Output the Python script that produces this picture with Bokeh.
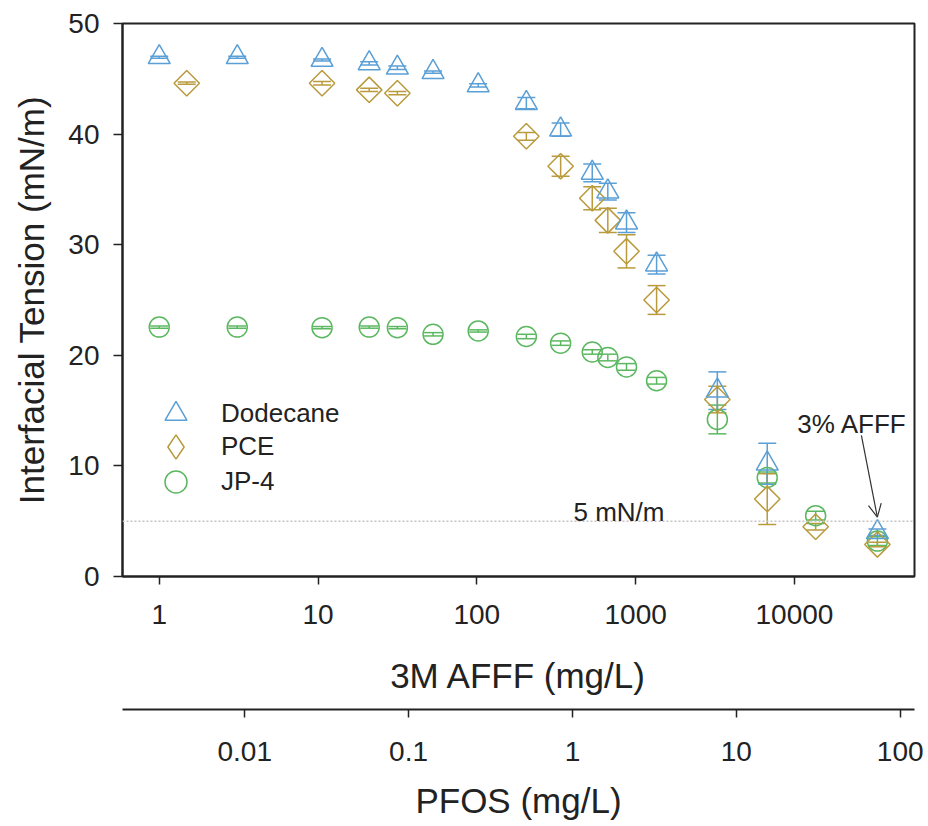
import numpy as np
from bokeh.plotting import figure
from bokeh.models import (ColumnDataSource, Range1d, LogAxis, FixedTicker,
                          CustomJSTickFormatter, Whisker, TeeHead, Span, Label,
                          Arrow, OpenHead, Legend, LegendItem)
from bokeh.embed import file_html
from bokeh.resources import INLINE

# ---------------- data ----------------
dodecane_afff = [1, 3.1, 10.6, 21, 31.6, 53, 102, 205, 337, 533, 668, 876, 1355, 3270, 6740, 33300]
dodecane_ift = [46.95, 46.95, 46.7, 46.4, 46.0, 45.6, 44.4, 42.8, 40.4, 36.5, 34.8, 32.0, 28.2, 16.8, 10.2, 4.0]
dodecane_err = [0.1, 0.1, 0.1, 0.15, 0.15, 0.1, 0.15, 0.5, 0.6, 0.8, 0.75, 0.9, 0.85, 1.7, 1.85, 0.3]

pce_afff = [1.49, 10.6, 21, 31.6, 205, 337, 533, 668, 876, 1355, 3270, 6740, 13600, 33300]
pce_ift = [44.6, 44.6, 44.0, 43.7, 39.8, 37.1, 34.2, 32.2, 29.4, 25.0, 16.0, 7.0, 4.5, 2.9]
pce_err = [0.1, 0.15, 0.15, 0.15, 0.35, 0.9, 1.05, 1.1, 1.5, 1.3, 1.2, 2.3, 0.3, 0.2]

jp4_afff = [1, 3.1, 10.6, 21, 31.6, 53, 102, 205, 337, 533, 668, 876, 1355, 3270, 6740, 13600, 33300]
jp4_ift = [22.55, 22.55, 22.5, 22.55, 22.5, 21.9, 22.2, 21.7, 21.1, 20.3, 19.8, 18.95, 17.7, 14.2, 8.95, 5.5, 3.2]
jp4_err = [0.1, 0.1, 0.1, 0.1, 0.1, 0.15, 0.1, 0.2, 0.2, 0.2, 0.3, 0.3, 0.3, 1.3, 0.5, 0.4, 0.4]

series_names = ["Dodecane", "PCE", "JP-4"]
afff_ticks = [1, 10, 100, 1000, 10000]
pfos_ticks = [0.01, 0.1, 1, 10, 100]
y_ticks = [0, 10, 20, 30, 40, 50]
threshold = 5

# ---------------- styling ----------------
FONT = "Liberation Sans"
TXT = "#222222"
C_DOD = "#5a9fd6"
C_PCE = "#b99a3c"
C_JP4 = "#5cb860"

p = figure(frame_width=792, frame_height=553, x_axis_type="log",
           x_range=Range1d(10 ** -0.2313, 10 ** 4.756), y_range=Range1d(0, 50),
           output_backend="svg", toolbar_location=None,
           min_border_left=122, min_border_top=23, min_border_right=14, min_border_bottom=0)
p.extra_x_ranges = {"pfos": Range1d(10 ** -2.7457, 10 ** 2.0872)}
p.xgrid.visible = False
p.ygrid.visible = False
p.outline_line_color = TXT
p.outline_line_width = 2
p.background_fill_color = "white"
p.border_fill_color = "white"

fmt = CustomJSTickFormatter(code="return tick.toString();")


def style_axis(ax, label):
    ax.axis_label = label
    ax.axis_label_text_font = FONT
    ax.axis_label_text_font_size = "35px"
    ax.axis_label_text_font_style = "normal"
    ax.axis_label_text_color = TXT
    ax.major_label_text_font = FONT
    ax.major_label_text_font_size = "28px"
    ax.major_label_text_color = TXT
    ax.axis_line_color = TXT
    ax.axis_line_width = 2
    ax.major_tick_line_color = TXT
    ax.major_tick_line_width = 1.5
    ax.major_tick_in = 0
    ax.major_tick_out = 8
    ax.minor_tick_line_color = None


# main x axis (AFFF)
xa = p.xaxis[0]
style_axis(xa, "3M AFFF (mg/L)")
xa.ticker = FixedTicker(ticks=afff_ticks)
xa.formatter = fmt
xa.major_label_standoff = 20
xa.axis_label_standoff = 29

# spacer between the two bottom axes: white ticks on white, no labels
spacer = LogAxis(x_range_name="pfos", ticker=FixedTicker(ticks=pfos_ticks),
                 axis_line_color="white", axis_line_width=0.1,
                 major_tick_line_color="white", major_tick_line_width=0.1,
                 minor_tick_line_color=None, major_tick_out=12, major_tick_in=0,
                 major_label_text_color=None, major_label_standoff=0)
p.add_layout(spacer, "below")

# PFOS axis
pa = LogAxis(x_range_name="pfos")
style_axis(pa, "PFOS (mg/L)")
pa.ticker = FixedTicker(ticks=pfos_ticks)
pa.formatter = fmt
pa.major_label_standoff = 24
pa.axis_label_standoff = 17
p.add_layout(pa, "below")

# y axis
ya = p.yaxis[0]
style_axis(ya, "Interfacial Tension (mN/m)")
ya.ticker = FixedTicker(ticks=y_ticks)
ya.major_tick_out = 9
ya.major_label_standoff = 14
ya.axis_label_standoff = 14

# threshold line
p.add_layout(Span(location=threshold, dimension="width", line_color="#c4c4c4",
                  line_dash="2 2", line_width=1.5))


def series(xs, ys, es, color, marker, size, angle=0.0):
    src = ColumnDataSource(dict(x=xs, y=ys,
                                lo=[a - b for a, b in zip(ys, es)],
                                hi=[a + b for a, b in zip(ys, es)]))
    w = Whisker(base="x", lower="lo", upper="hi", source=src,
                line_color=color, line_width=1.5,
                upper_head=TeeHead(size=18, line_color=color, line_width=1.5),
                lower_head=TeeHead(size=18, line_color=color, line_width=1.5))
    p.add_layout(w)
    r = p.scatter("x", "y", source=src, marker=marker, size=size, angle=angle,
                  line_color=color, line_width=1.5, fill_color=None)
    return r, src


r_jp4, _ = series(jp4_afff, jp4_ift, jp4_err, C_JP4, "circle", 20)
r_pce, pce_src = series(pce_afff, pce_ift, pce_err, C_PCE, "square", 18, np.pi / 4)
r_dod, _ = series(dodecane_afff, dodecane_ift, dodecane_err, C_DOD, "triangle", 22)

# legend-only diamond for PCE (hidden renderer, same source)
r_pce_leg = p.scatter("x", "y", source=pce_src, marker="diamond", size=24,
                      line_color=C_PCE, line_width=1.5, fill_color=None, visible=False)

# one single-item legend per row, for exact row spacing
leg_specs = [(r_dod, 26, 135, 55, 18), (r_pce_leg, 23, 99, 61, 15), (r_jp4, 26, 67, 55, 18)]
for name, (rend, vx, vy, gsize, stand) in zip(series_names, leg_specs):
    lg = Legend(items=[LegendItem(label=name, renderers=[rend])],
                location=(vx, vy), glyph_width=gsize, glyph_height=gsize, spacing=0,
                padding=0, margin=0, border_line_color=None,
                background_fill_alpha=0, inactive_fill_alpha=0, label_standoff=stand,
                label_text_font=FONT, label_text_font_size="26px",
                label_text_color=TXT)
    p.add_layout(lg)

# annotations
p.add_layout(Label(x=406, y=5.8, text="5 mN/m", text_font=FONT, text_font_size="26px",
                   text_color=TXT, text_baseline="alphabetic", text_align="left"))
p.add_layout(Label(x=10430, y=13.82, text="3% AFFF", text_font=FONT, text_font_size="26px",
                   text_color=TXT, text_baseline="alphabetic", text_align="left"))
p.add_layout(Arrow(x_start=26400, y_start=12.76, x_end=33270, y_end=5.37,
                   line_color="#333333", line_width=1.2,
                   end=OpenHead(size=13, line_color="#333333", line_width=1.2)))

open("out.html", "w").write(file_html(p, INLINE))
